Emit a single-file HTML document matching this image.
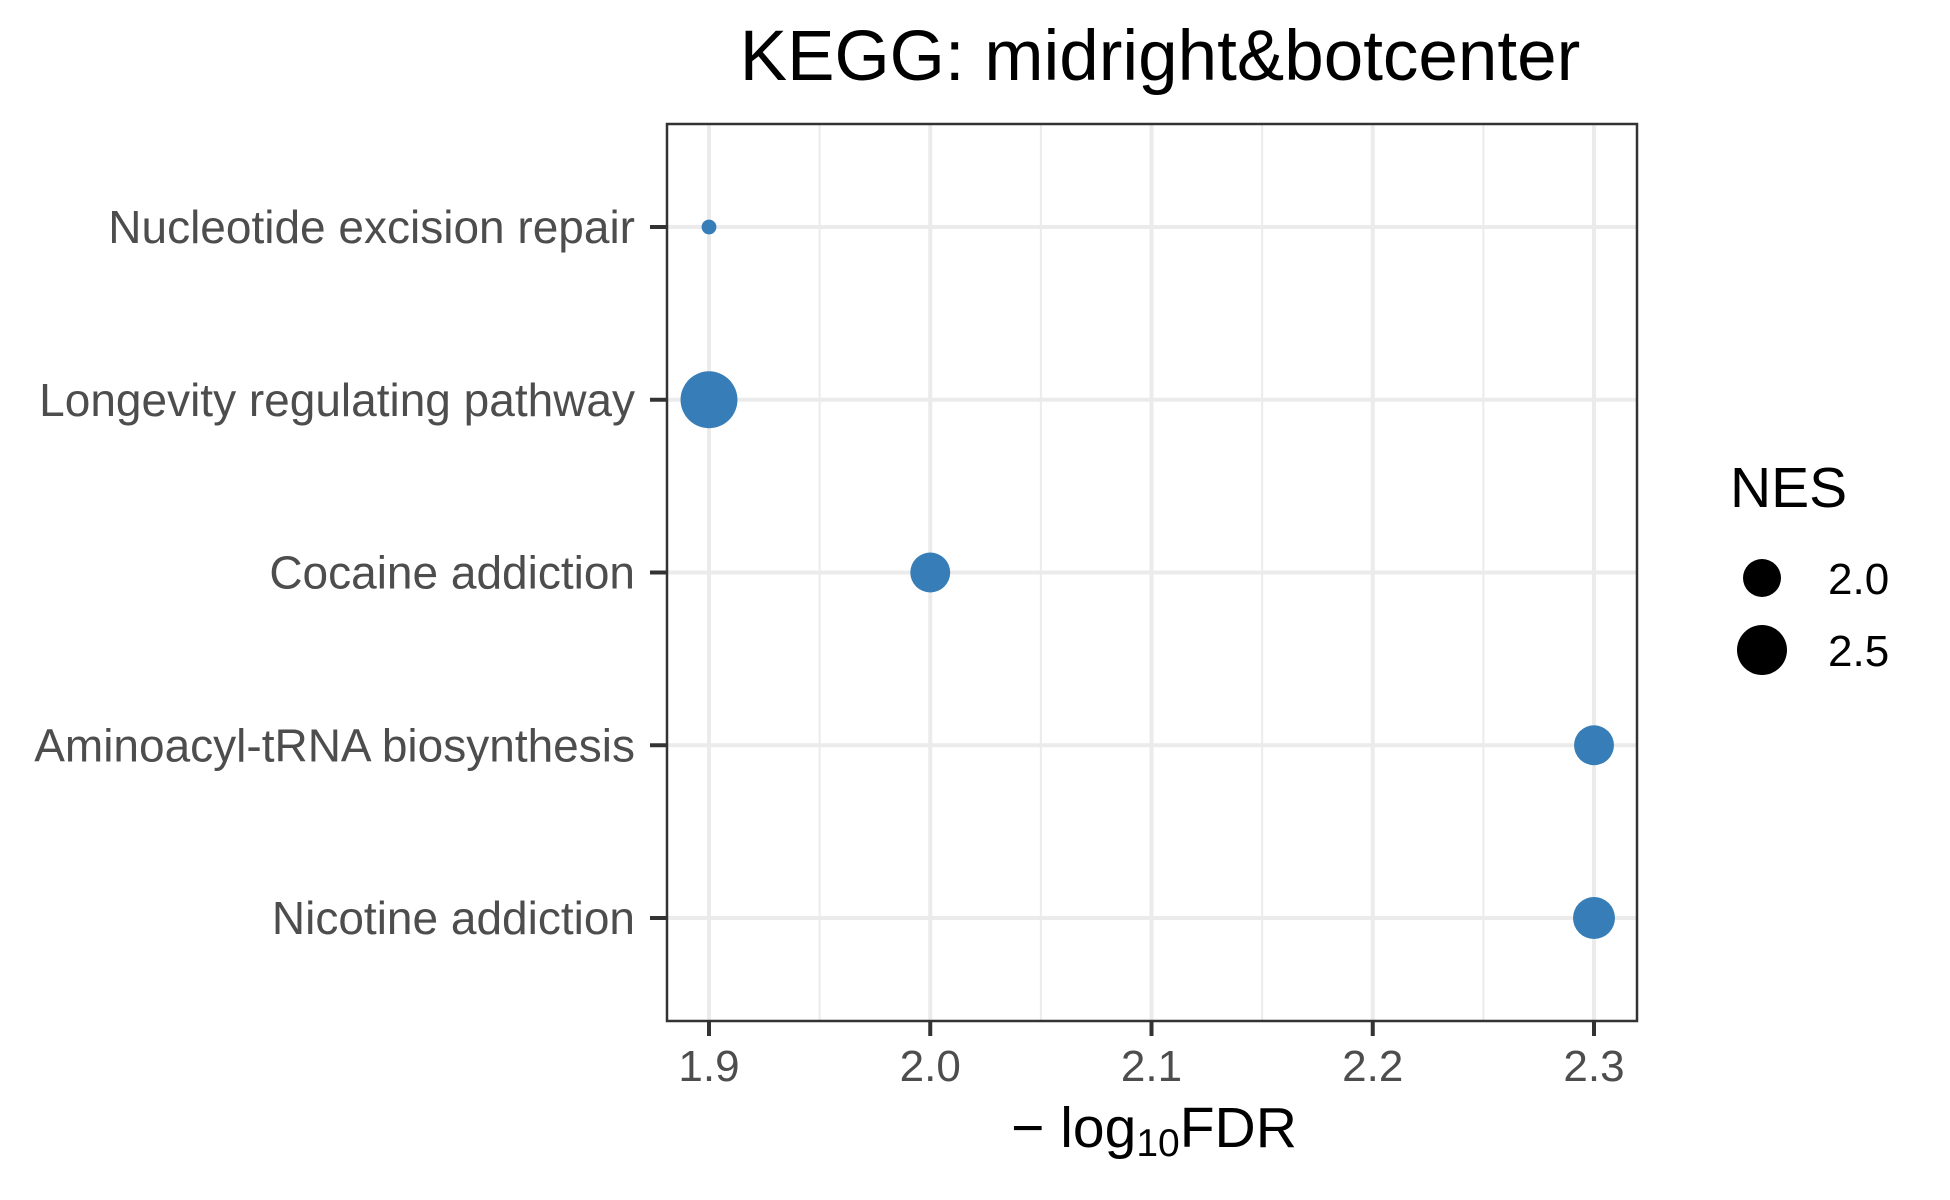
<!DOCTYPE html>
<html><head><meta charset="utf-8"><style>
html,body{margin:0;padding:0;background:#fff;}
svg{display:block;font-family:"Liberation Sans",Arial,sans-serif;}
</style></head><body>
<svg id="chart" width="1950" height="1200" viewBox="0 0 1950 1200">
<text x="1160" y="80" font-size="71" text-anchor="middle" fill="#000">KEGG: midright&amp;botcenter</text>
<g id="grid"></g>
<g id="yaxis"></g>
<g id="xaxis"></g>
<g id="points"></g>
<rect x="667" y="124" width="970" height="897" fill="none" stroke="#333" stroke-width="2.5"/>
<text x="1154" y="1147" font-size="57" text-anchor="middle" fill="#000">− log<tspan font-size="39" dy="9">10</tspan><tspan dy="-9">FDR</tspan></text>
<g>
<text x="1730" y="507" font-size="57" fill="#000">NES</text>
<g id="legend-items"></g>
</g>
</svg>
<script>
const categories = ["Nucleotide excision repair","Longevity regulating pathway","Cocaine addiction","Aminoacyl-tRNA biosynthesis","Nicotine addiction"];
const fdrValues = [1.9, 1.9, 2.0, 2.3, 2.3];
const nesValues = [1.42, 2.85, 2.07, 2.07, 2.15];
const xTicks = [1.9, 2.0, 2.1, 2.2, 2.3];
const xTickLabels = ["1.9","2.0","2.1","2.2","2.3"];
const xMinorTicks = [1.95, 2.05, 2.15, 2.25];
const legendValues = [2.0, 2.5];
const legendLabels = ["2.0","2.5"];

const NS = "http://www.w3.org/2000/svg";
const x = v => 709 + (v - 1.9) * 2212.5;
const y = i => 227 + i * 172.75;
const r = v => Math.sqrt(Math.max(20, 361 + 528 * (v - 2)));
function mk(tag, attrs, parent){const e=document.createElementNS(NS,tag);for(const k in attrs)e.setAttribute(k,attrs[k]);parent.appendChild(e);return e;}
const grid=document.getElementById('grid'), ya=document.getElementById('yaxis'), xa=document.getElementById('xaxis'), pts=document.getElementById('points'), lg=document.getElementById('legend-items');

xMinorTicks.forEach(v=>{const l=mk('line',{x1:x(v),x2:x(v),y1:124,y2:1021,stroke:'#ebebeb','stroke-width':2},grid);

});
xTicks.forEach((v,i)=>{const l=mk('line',{x1:x(v),x2:x(v),y1:124,y2:1021,stroke:'#ebebeb','stroke-width':4},grid);


const t=mk('line',{x1:x(v),x2:x(v),y1:1021,y2:1036,stroke:'#333','stroke-width':4},xa);


const tx=mk('text',{x:x(v),y:1081,'font-size':44,'text-anchor':'middle',fill:'#4d4d4d'},xa);tx.textContent=xTickLabels[i];

});
categories.forEach((c,i)=>{const l=mk('line',{x1:667,x2:1637,y1:y(i),y2:y(i),stroke:'#ebebeb','stroke-width':4},grid);


const t=mk('line',{x1:650,x2:667,y1:y(i),y2:y(i),stroke:'#333','stroke-width':4},ya);


const tx=mk('text',{x:635,y:y(i)+16,'font-size':46,'text-anchor':'end',fill:'#4d4d4d'},ya);tx.textContent=c;


const p=mk('circle',{cx:x(fdrValues[i]),cy:y(i),r:r(nesValues[i]),fill:'#377eb8'},pts);

});
legendValues.forEach((v,i)=>{const cy=578+i*72;
const c=mk('circle',{cx:1762,cy:cy,r:r(v),fill:'#000'},lg);


const t=mk('text',{x:1828,y:cy+16,'font-size':44,fill:'#000'},lg);t.textContent=legendLabels[i];

});
</script>
</body></html>
